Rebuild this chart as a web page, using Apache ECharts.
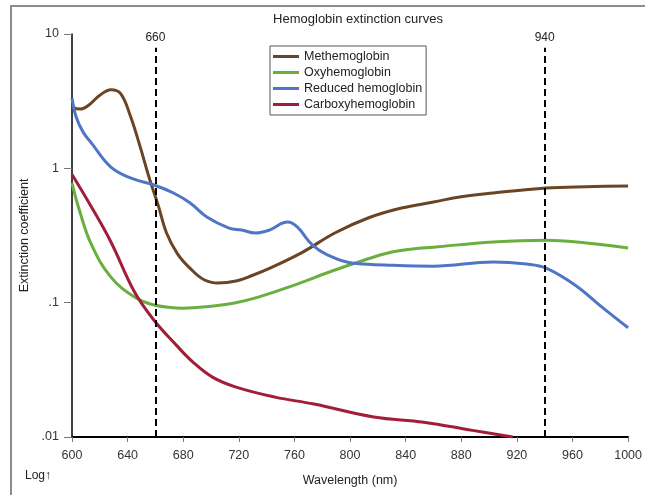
<!DOCTYPE html>
<html>
<head>
<meta charset="utf-8">
<title>Hemoglobin extinction curves</title>
<script src="https://cdn.jsdelivr.net/npm/echarts@6/dist/echarts.min.js"></script>
<style>
  html, body { margin: 0; padding: 0; background: #fff; }
  #chart { width: 645px; height: 495px; }
</style>
</head>
<body>
<div id="chart"></div>
<script>
// wavelength (nm) -> extinction coefficient
const metWl  = [600, 606, 612, 620, 628, 635, 642, 649, 656, 662, 668, 676, 685, 695, 705, 718, 730, 742, 766, 789, 813, 837, 860, 880, 903, 941, 970, 1000];
const metVal = [2.86, 2.76, 2.95, 3.5, 3.85, 3.6, 2.45, 1.45, 0.82, 0.53, 0.33, 0.23, 0.18, 0.148, 0.14, 0.145, 0.16, 0.18, 0.238, 0.33, 0.427, 0.506, 0.561, 0.615, 0.655, 0.713, 0.73, 0.738];

const oxyWl  = [600, 605, 614, 628, 645, 659, 680, 700, 716, 734, 760, 787, 810, 830, 845, 860, 903, 941, 970, 1000];
const oxyVal = [0.78, 0.5, 0.27, 0.155, 0.11, 0.096, 0.091, 0.094, 0.099, 0.11, 0.135, 0.172, 0.207, 0.238, 0.251, 0.259, 0.283, 0.292, 0.278, 0.255];

const redWl  = [600, 603, 608, 614, 628, 642, 659, 673, 685, 697, 713, 722, 732, 742, 755, 762, 773, 784, 801, 825, 860, 903, 927, 941, 962, 981, 1000];
const redVal = [3.34, 2.41, 1.86, 1.54, 1.02, 0.848, 0.751, 0.655, 0.552, 0.434, 0.359, 0.347, 0.33, 0.347, 0.398, 0.366, 0.268, 0.226, 0.197, 0.191, 0.187, 0.201, 0.194, 0.181, 0.135, 0.093, 0.065];

const carbWl  = [600, 614, 628, 645, 659, 675, 687, 701, 718, 746, 774, 817, 853, 888, 917];
const carbVal = [0.9, 0.515, 0.283, 0.12, 0.074, 0.0483, 0.0361, 0.0279, 0.0235, 0.0198, 0.0176, 0.0141, 0.0129, 0.0112, 0.01];

const seriesNames = ['Methemoglobin', 'Oxyhemoglobin', 'Reduced hemoglobin', 'Carboxyhemoglobin'];
const seriesColors = ['#6a4424', '#6aaf3d', '#4f76c6', '#a11d3a'];

const markerWl = [660, 940];
const markerTop = 7.9;
const yTickLabels = { '-2': '.01', '-1': '.1', '0': '1', '1': '10' };

const font = 'Liberation Sans, Arial, Helvetica, sans-serif';

function pairs(xs, ys) {
  return xs.map((x, i) => [x, ys[i]]);
}

const curves = [pairs(metWl, metVal), pairs(oxyWl, oxyVal), pairs(redWl, redVal), pairs(carbWl, carbVal)];

const series = curves.map((data, i) => ({
  name: seriesNames[i],
  type: 'line',
  data: data,
  smooth: 0.4,
  showSymbol: false,
  lineStyle: { color: seriesColors[i], width: 3 },
  itemStyle: { color: seriesColors[i] },
  z: 3
}));

series[0].markLine = {
  silent: true,
  symbol: 'none',
  animation: false,
  lineStyle: { color: '#000', type: [7, 4], width: 2 },
  label: {
    position: 'end',
    distance: 4,
    color: '#222',
    fontSize: 12,
    fontFamily: font,
    formatter: p => p.name
  },
  data: markerWl.map(w => [
    { name: String(w), coord: [w, 0.01] },
    { coord: [w, markerTop] }
  ])
};

const chart = echarts.init(document.getElementById('chart'));
chart.setOption({
  animation: false,
  backgroundColor: '#fff',
  title: {
    text: 'Hemoglobin extinction curves',
    left: 353,
    textAlign: 'center',
    top: 8,
    textStyle: { fontSize: 13, fontWeight: 'normal', color: '#222', fontFamily: font }
  },
  legend: {
    data: seriesNames,
    orient: 'vertical',
    left: 270,
    top: 46,
    padding: [4, 4, 4, 3],
    itemWidth: 26,
    itemHeight: 3,
    itemGap: 3,
    icon: 'rect',
    borderColor: '#555',
    borderWidth: 1,
    backgroundColor: '#fff',
    textStyle: { fontSize: 12.5, lineHeight: 12, color: '#222', fontFamily: font }
  },
  grid: { left: 72, right: 11, top: 34, bottom: 58 },
  xAxis: {
    type: 'value',
    min: 600,
    max: 1000,
    interval: 40,
    name: 'Wavelength (nm)',
    nameLocation: 'middle',
    nameGap: 37,
    nameTextStyle: { fontSize: 12.5, color: '#222', fontFamily: font },
    axisLine: { lineStyle: { color: '#000', width: 2 } },
    axisTick: { length: 5, lineStyle: { color: '#777' } },
    axisLabel: { margin: 12, fontSize: 12.5, color: '#333', fontFamily: font, formatter: v => String(v) },
    splitLine: { show: false }
  },
  yAxis: {
    type: 'log',
    logBase: 10,
    min: 0.01,
    max: 10,
    name: 'Extinction coefficient',
    nameLocation: 'middle',
    nameRotate: 90,
    nameGap: 36,
    nameTextStyle: { fontSize: 12.5, color: '#222', fontFamily: font },
    axisLine: { show: true, lineStyle: { color: '#000', width: 1.5 } },
    axisTick: { show: true, length: 8, lineStyle: { color: '#777' } },
    minorTick: { show: false },
    axisLabel: {
      margin: 13,
      fontSize: 12.5,
      color: '#333',
      fontFamily: font,
      formatter: v => yTickLabels[String(Math.round(Math.log10(v)))] || ''
    },
    splitLine: { show: false }
  },
  graphic: [
    {
      type: 'rect',
      silent: true,
      z: -10,
      shape: { x: 11, y: 6, width: 700, height: 600 },
      style: { fill: 'none', stroke: '#8c8c8c', lineWidth: 2 }
    },
    {
      type: 'text',
      silent: true,
      left: 25,
      top: 470,
      style: { text: 'Log\u2191', fontSize: 12, fill: '#222', font: '12.5px ' + font }
    }
  ],
  series: series
});
</script>
</body>
</html>
